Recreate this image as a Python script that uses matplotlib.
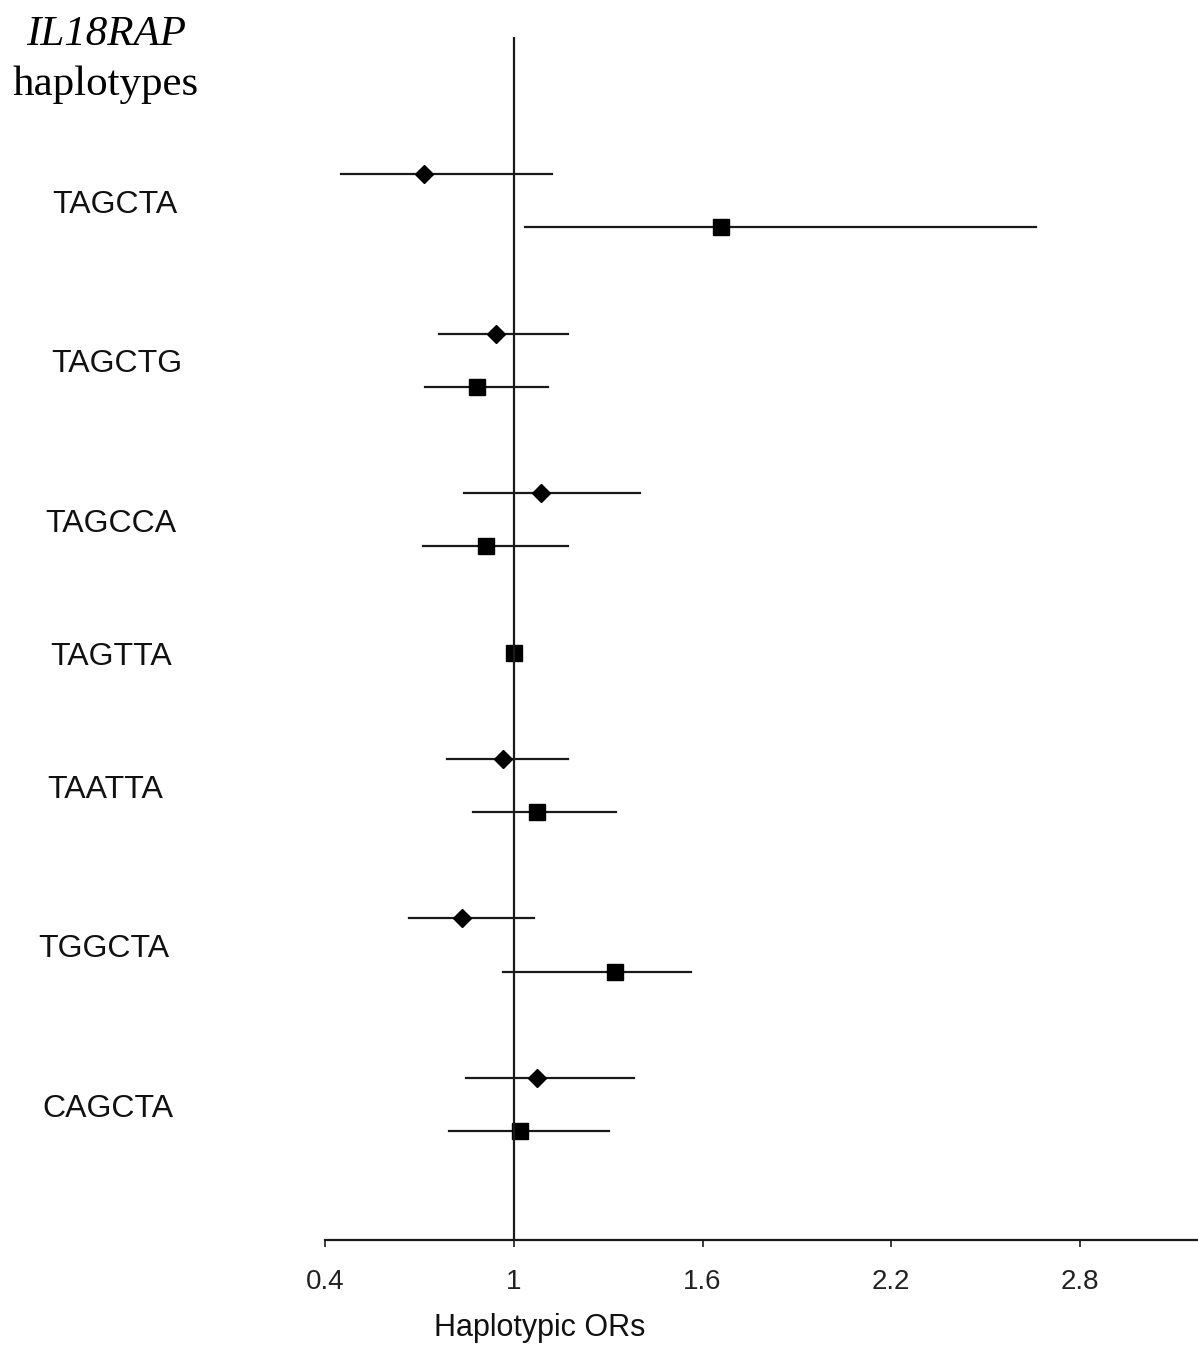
import matplotlib
matplotlib.use("Agg")
import matplotlib.pyplot as plt
from matplotlib.transforms import blended_transform_factory

# haplotype labels, top to bottom
haplotypes = ["TAGCTA", "TAGCTG", "TAGCCA", "TAGTTA", "TAATTA", "TGGCTA", "CAGCTA"]

# diamond series (first row of each group); TAGTTA has none
dia_or = [0.715, 0.944, 1.087, None, 0.966, 0.835, 1.074]
dia_lo = [0.451, 0.762, 0.842, None, 0.788, 0.667, 0.848]
dia_hi = [1.120, 1.172, 1.401, None, 1.172, 1.064, 1.382]

# square series (second row of each group); TAGTTA is the reference (OR = 1)
sq_or = [1.659, 0.883, 0.912, 1.0, 1.074, 1.322, 1.020]
sq_lo = [1.036, 0.718, 0.711, None, 0.870, 0.966, 0.794]
sq_hi = [2.660, 1.109, 1.172, None, 1.325, 1.563, 1.303]

x_ticks = [0.4, 1.0, 1.6, 2.2, 2.8]
x_tick_labels = ["0.4", "1", "1.6", "2.2", "2.8"]

# row layout: two rows per haplotype, a blank row between groups
row_dia = [0, 3, 6, None, 11, 14, 17]
row_sq = [1, 4, 7, 9, 12, 15, 18]
label_x = [115, 117, 111, 111, 105, 104, 108]  # label centres, px

W, H = 1198, 1346
fig = plt.figure(figsize=(W / 100, H / 100), dpi=100)
ax = fig.add_axes([325 / W, 1 - 1240 / H, (W - 325) / W, (1240 - 37) / H])

ink = "#1a1a1a"

for i in range(len(haplotypes)):
    if dia_or[i] is not None:
        y = row_dia[i]
        ax.plot([dia_lo[i], dia_hi[i]], [y, y], color=ink, lw=1.6)
        ax.plot(dia_or[i], y, marker="D", ms=9, color="black", ls="none")
    y = row_sq[i]
    if sq_lo[i] is not None:
        ax.plot([sq_lo[i], sq_hi[i]], [y, y], color=ink, lw=1.6)
    ax.plot(sq_or[i], y, marker="s", ms=11.5, color="black", ls="none")

ax.axvline(1.0, color=ink, lw=1.6)

ax.set_xlim(0.4, 3.175)
ax.set_ylim(20.05, -2.58)
ax.set_yticks([])
for s in ["top", "right", "left"]:
    ax.spines[s].set_visible(False)
ax.spines["bottom"].set_color(ink)
ax.spines["bottom"].set_linewidth(1.6)
ax.set_xticks(x_ticks)
ax.set_xticklabels(x_tick_labels, fontsize=20, family="Liberation Sans", color="#222222")
ax.tick_params(axis="x", direction="out", length=5, width=1.2, color=ink, pad=16)

ax.set_xlabel("Haplotypic ORs", fontsize=22, family="Liberation Sans", labelpad=14, color="#111111")
ax.xaxis.set_label_coords((540 - 325) / (W - 325), -(1328 - 1240) / (1240 - 37), transform=ax.transAxes)
ax.xaxis.label.set_va("center")

# haplotype labels on the left, between the group's rows
trans = blended_transform_factory(fig.transFigure, ax.transData)
for i, name in enumerate(haplotypes):
    if row_dia[i] is not None:
        y = (row_dia[i] + row_sq[i]) / 2
    else:
        y = row_sq[i]
    ax.text(label_x[i] / W, y + 0.08, name, transform=trans, ha="center", va="center",
            fontsize=23, family="Liberation Sans", color="#111111", clip_on=False)

fig.text(106 / W, 1 - 35 / H, "IL18RAP", ha="center", va="center", fontsize=31,
         family="Liberation Serif", style="italic")
fig.text(106 / W, 1 - 85 / H, "haplotypes", ha="center", va="center", fontsize=31,
         family="Liberation Serif")

fig.savefig("out.png", dpi=100)
